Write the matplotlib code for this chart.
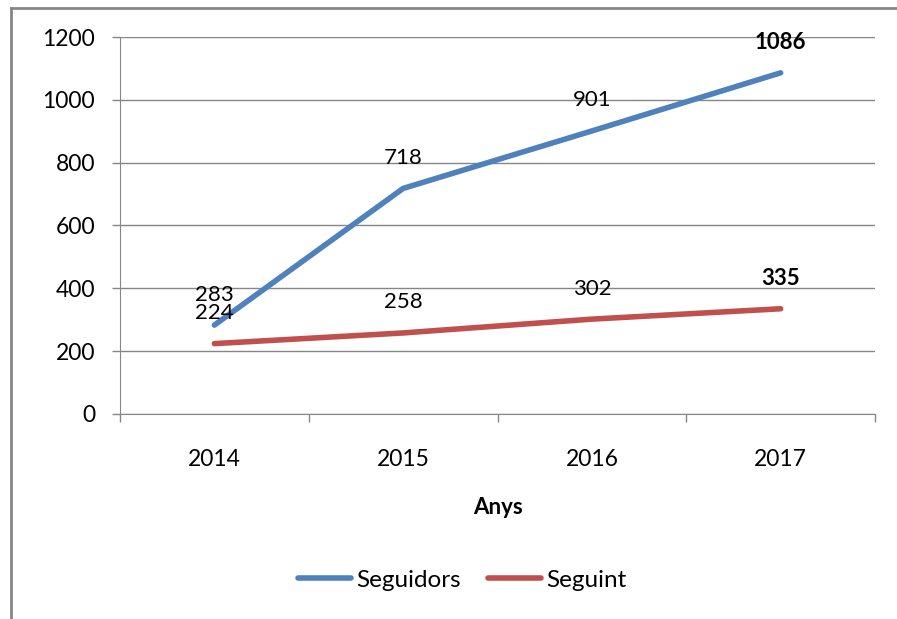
import matplotlib.pyplot as plt
from matplotlib.lines import Line2D

plt.rcParams['font.family'] = ['Lato', 'DejaVu Sans']

anys = ['2014', '2015', '2016', '2017']
seguidors = [283, 718, 901, 1086]
seguint = [224, 258, 302, 335]

blau = '#4F81BD'
vermell = '#C0504D'
gris = '#868686'

fig = plt.figure(figsize=(8.97, 6.19), dpi=100)
ax = fig.add_axes([120 / 897, 1 - 414 / 619, 755 / 897, 377 / 619])

x = list(range(len(anys)))
ax.plot(x, seguidors, color=blau, lw=4, solid_capstyle='round', label='Seguidors')
ax.plot(x, seguint, color=vermell, lw=4, solid_capstyle='round', label='Seguint')

# etiquetes de dades, per sobre de cada punt
for i in x:
    pes = 'bold' if i == len(anys) - 1 else 'normal'
    ax.annotate(str(seguidors[i]), (i, seguidors[i]), xytext=(0, 22), textcoords='offset points',
                ha='center', va='center', fontsize=16, fontweight=pes)
    ax.annotate(str(seguint[i]), (i, seguint[i]), xytext=(0, 22), textcoords='offset points',
                ha='center', va='center', fontsize=16, fontweight=pes)

ax.set_xlim(-0.5, 3.5)
ax.set_ylim(0, 1200)
ax.set_yticks(range(0, 1201, 200))
ax.set_xticks(x)
ax.set_xticklabels(anys)
ax.set_xticks([-0.5, 0.5, 1.5, 2.5, 3.5], minor=True)
ax.tick_params(axis='x', which='major', length=0, pad=25, labelsize=16.5)
ax.tick_params(axis='x', which='minor', length=6, width=1, color=gris, direction='out')
ax.tick_params(axis='y', length=6, width=1, color=gris, pad=12, labelsize=16.5)

ax.grid(axis='y', color=gris, lw=1)
ax.set_axisbelow(True)
for s in ['top', 'right']:
    ax.spines[s].set_visible(False)
ax.spines['left'].set_color(gris)
ax.spines['bottom'].set_color(gris)

ax.set_xlabel('Anys', fontsize=16, fontweight='bold', labelpad=20)

fig.legend(loc='center', bbox_to_anchor=(462 / 897, 1 - 580 / 619), ncol=2, frameon=False,
           fontsize=17.5, handlelength=2.2, handletextpad=0.2, columnspacing=1.1)

# vora del gràfic: només esquerra i dalt (la resta queda retallada)
fig.add_artist(Line2D([11 / 897, 11 / 897], [0, 1 - 8 / 619], transform=fig.transFigure, color=gris, lw=2))
fig.add_artist(Line2D([11 / 897, 1], [1 - 8 / 619, 1 - 8 / 619], transform=fig.transFigure, color=gris, lw=2))

fig.savefig('out.png', dpi=100)
